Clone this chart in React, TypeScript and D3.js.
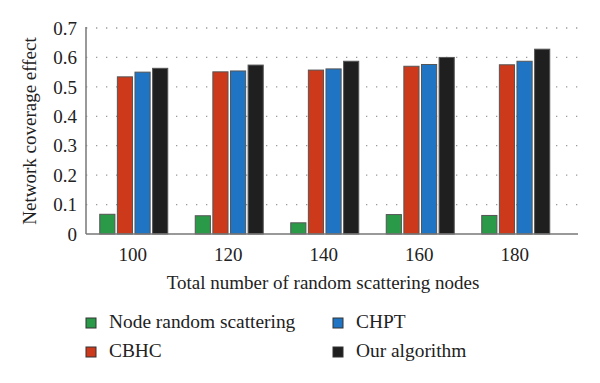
import React from "react";
import * as d3 from "d3";

const categories = ["100", "120", "140", "160", "180"];
const seriesNames = ["Node random scattering", "CBHC", "CHPT", "Our algorithm"];
const nodeRandom = [0.067, 0.062, 0.038, 0.066, 0.063];
const cbhc = [0.534, 0.551, 0.557, 0.570, 0.575];
const chpt = [0.550, 0.554, 0.561, 0.576, 0.587];
const ours = [0.563, 0.574, 0.587, 0.600, 0.628];
const yTicks = [0, 0.1, 0.2, 0.3, 0.4, 0.5, 0.6, 0.7];
const colors = ["#2b9a48", "#cd3a1b", "#1f75c3", "#1f1f1f"];

const FONT = "Liberation Serif, DejaVu Serif, serif";

export default function App() {
  const W = 600, H = 383;
  const left = 86, right = 578, top = 28, bottom = 234;
  const series = [nodeRandom, cbhc, chpt, ours];

  const x = d3.scaleBand<string>().domain(categories).range([left, left + 5 * 95.5]).paddingInner(0).paddingOuter(0);
  const x1 = d3.scaleBand<number>().domain([0, 1, 2, 3]).range([-34, 34]).paddingInner(0.14);
  const y = d3.scaleLinear().domain([0, 0.7]).range([bottom, top]);

  return (
    <div style={{ margin: -8 }}>
      <svg width={W} height={H} style={{ display: "block", background: "#fff", fontFamily: FONT }}>
        {yTicks.filter(t => t > 0).map(t => (
          <line key={t} x1={left} x2={right} y1={y(t)} y2={y(t)} stroke="#999" strokeWidth={1.3} strokeDasharray="1.3,8.7" />
        ))}
        {categories.map((c, i) => {
          const cx = (x(c) as number) + x.bandwidth() / 2;
          return series.map((s, k) => (
            <rect key={c + k} x={cx + (x1(k) as number)} y={y(s[i])} width={x1.bandwidth()} height={bottom - y(s[i])}
              fill={colors[k]} stroke="#555" strokeWidth={1} />
          ));
        })}
        <line x1={left} x2={left} y1={top - 1} y2={bottom} stroke="#777" strokeWidth={1.5} />
        <line x1={left} x2={right} y1={bottom} y2={bottom} stroke="#777" strokeWidth={1.5} />
        {yTicks.map(t => (
          <text key={t} x={77} y={y(t)} dy="0.35em" textAnchor="end" fontSize={19} fill="#222">{t === 0 ? "0" : t.toFixed(1)}</text>
        ))}
        {categories.map(c => (
          <text key={c} x={(x(c) as number) + x.bandwidth() / 2 - 1} y={261} textAnchor="middle" fontSize={19} fill="#222">{c}</text>
        ))}
        <text x={323} y={289} textAnchor="middle" fontSize={19} fill="#222">Total number of random scattering nodes</text>
        <text transform={`translate(36,131) rotate(-90)`} textAnchor="middle" fontSize={19} fill="#222">Network coverage effect</text>
        {seriesNames.map((n, k) => {
          const col = k === 0 || k === 1 ? 0 : 1;
          const row = k === 0 || k === 2 ? 0 : 1;
          const lx = col === 0 ? 86 : 333;
          const ly = row === 0 ? 318 : 347;
          return (
            <g key={n}>
              <rect x={lx} y={ly} width={10} height={10} fill={colors[k]} stroke="#333" strokeWidth={1} />
              <text x={lx + 23} y={ly + 10} fontSize={19.4} fill="#222">{n}</text>
            </g>
          );
        })}
      </svg>
    </div>
  );
}
